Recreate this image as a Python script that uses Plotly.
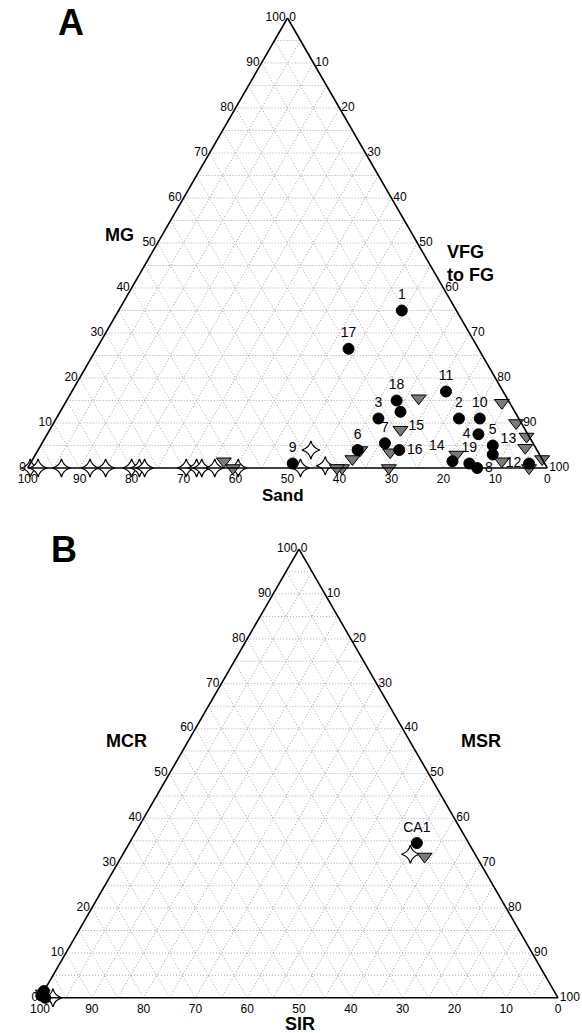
import plotly.graph_objects as go

# ---------------- Panel A (percent): MG (top), Sand (left), VFG to FG (right)
circle_labels_A = ["1", "17", "11", "18", "15", "3", "2", "10", "4", "7",
                   "6", "16", "5", "13", "14", "19", "8", "12", "9"]
circle_MG_A = [35, 26.5, 17, 15, 12.5, 11, 11, 11, 7.5, 5.5,
               4, 4, 5, 3, 1.5, 1, 0, 1, 1]
circle_VFG_A = [54.5, 48.5, 72, 63.5, 65.5, 62, 77.5, 81.5, 83, 66,
                61.5, 69.5, 87, 88, 81, 84.5, 86.5, 96, 50.5]
circle_Sand_A = [10.5, 25, 11, 21.5, 22, 27, 11.5, 7.5, 9.5, 28.5,
                 34.5, 26.5, 8, 9, 17.5, 14.5, 13.5, 3, 48.5]

tri_MG_A = [15.5, 8.5, 3.5, 4, 2, 0, 0, 0, 3, 14.5, 10, 7, 4.5, 2, 1.5, 0, 1.5, 0]
tri_VFG_A = [67.5, 67.5, 68, 62, 61.5, 60.5, 59.5, 69.5, 81, 84, 89, 92.5, 93.5, 98, 90.5, 96.5, 37, 39.5]
tri_Sand_A = [17, 24, 28.5, 34, 36.5, 39.5, 40.5, 30.5, 16, 1.5, 1, 0.5, 2, 0, 8, 3.5, 61.5, 60.5]

star_MG_A = [0, 0, 0, 0, 0, 0, 0, 0, 0, 0, 0, 0, 0, 0, 4, 0.5]
star_Sand_A = [99.5, 98, 93.5, 88, 85, 80, 78.5, 77.5, 69.5, 67.5, 66.5, 64, 59.5, 47.5, 43.5, 42.5]
star_VFG_A = [0.5, 2, 6.5, 12, 15, 20, 21.5, 22.5, 30.5, 32.5, 33.5, 36, 40.5, 52.5, 52.5, 57]

# ---------------- Panel B (percent): MCR (top), SIR (left), MSR (right)
circle_labels_B = ["CA1", "", "", ""]
circle_MCR_B = [34.5, 0.5, 1.5, 0]
circle_MSR_B = [55.5, 0, 0, 1]
circle_SIR_B = [10, 99.5, 98.5, 99]

tri_MCR_B = [31.5, 1]
tri_MSR_B = [58.5, 0]
tri_SIR_B = [10, 99]

star_MCR_B = [32, 0]
star_MSR_B = [55.5, 2.5]
star_SIR_B = [12.5, 97.5]

tick_vals = list(range(0, 101, 5))
tick_text = [str(v) if v % 10 == 0 else "" for v in tick_vals]

label_pos_A = {"15": "bottom right", "4": "middle left", "16": "middle right",
               "13": "top right", "14": "top left", "8": "middle right",
               "12": "middle left"}

FONT = "Arial, Liberation Sans, sans-serif"

circle_style = dict(symbol="circle", size=11, color="black",
                    line=dict(color="black", width=1))
tri_style = dict(symbol="triangle-down", size=13, color="#7a7a7a",
                 line=dict(color="black", width=1))
star_style = dict(symbol="star-diamond", size=13, color="white",
                  line=dict(color="black", width=1.2))

fig = go.Figure()

# Panel A
fig.add_trace(go.Scatterternary(a=star_MG_A, b=star_Sand_A, c=star_VFG_A,
                                mode="markers", marker=star_style, cliponaxis=False,
                                subplot="ternary", showlegend=False))
fig.add_trace(go.Scatterternary(a=tri_MG_A, b=tri_Sand_A, c=tri_VFG_A,
                                mode="markers", marker=tri_style, cliponaxis=False,
                                subplot="ternary", showlegend=False))
fig.add_trace(go.Scatterternary(
    a=circle_MG_A, b=circle_Sand_A, c=circle_VFG_A,
    mode="markers+text", text=circle_labels_A, cliponaxis=False,
    textposition=[label_pos_A.get(t, "top center") for t in circle_labels_A],
    textfont=dict(size=14, color="black", family=FONT),
    marker=circle_style, subplot="ternary", showlegend=False))

# Panel B
fig.add_trace(go.Scatterternary(a=star_MCR_B, b=star_SIR_B, c=star_MSR_B,
                                mode="markers", marker=star_style, cliponaxis=False,
                                subplot="ternary2", showlegend=False))
fig.add_trace(go.Scatterternary(a=tri_MCR_B, b=tri_SIR_B, c=tri_MSR_B,
                                mode="markers", marker=tri_style, cliponaxis=False,
                                subplot="ternary2", showlegend=False))
fig.add_trace(go.Scatterternary(
    a=circle_MCR_B, b=circle_SIR_B, c=circle_MSR_B,
    mode="markers+text", text=circle_labels_B, textposition="top center",
    cliponaxis=False,
    textfont=dict(size=14, color="black", family=FONT),
    marker=circle_style, subplot="ternary2", showlegend=False))


def axis():
    return dict(min=0, tickmode="array", tickvals=tick_vals, ticktext=tick_text,
                showgrid=True, gridcolor="#a8a8a8", griddash="1px,2px", gridwidth=1,
                showline=True, linecolor="black", linewidth=1.6,
                ticks="", tickfont=dict(size=12, color="black", family=FONT),
                title=dict(text=""))


W, H = 582, 1033


def px(x):
    return x / W


def py(y):
    return 1 - y / H


fig.update_layout(
    width=W, height=H,
    margin=dict(l=0, r=0, t=0, b=0),
    paper_bgcolor="white",
    font=dict(family=FONT, color="black"),
    ternary=dict(sum=100, bgcolor="white",
                 domain=dict(x=[px(27), px(548)], y=[py(468), py(18)]),
                 aaxis=axis(), baxis=axis(), caxis=axis()),
    ternary2=dict(sum=100, bgcolor="white",
                  domain=dict(x=[px(40), px(558)], y=[py(998), py(549)]),
                  aaxis=axis(), baxis=axis(), caxis=axis()),
)

annots = [
    ("A", 71, 23, 36, "center"),
    ("MG", 119, 235, 18, "center"),
    ("VFG<br>to FG", 445, 264, 18, "left"),
    ("Sand", 283, 495, 17, "center"),
    ("B", 64, 549, 36, "center"),
    ("MCR", 126, 741, 18, "center"),
    ("MSR", 481, 741, 18, "center"),
    ("SIR", 300, 1024, 18, "center"),
]
for text, x, y, size, align in annots:
    fig.add_annotation(text="<b>%s</b>" % text, x=px(x), y=py(y),
                       xref="paper", yref="paper", showarrow=False,
                       xanchor="left" if align == "left" else "center",
                       yanchor="middle", align=align,
                       font=dict(size=size, color="black", family=FONT))

fig.write_html("out.html",
               config={"displayModeBar": False},
               post_script="document.body.style.margin='0';"
                           "document.body.style.overflow='hidden';")
